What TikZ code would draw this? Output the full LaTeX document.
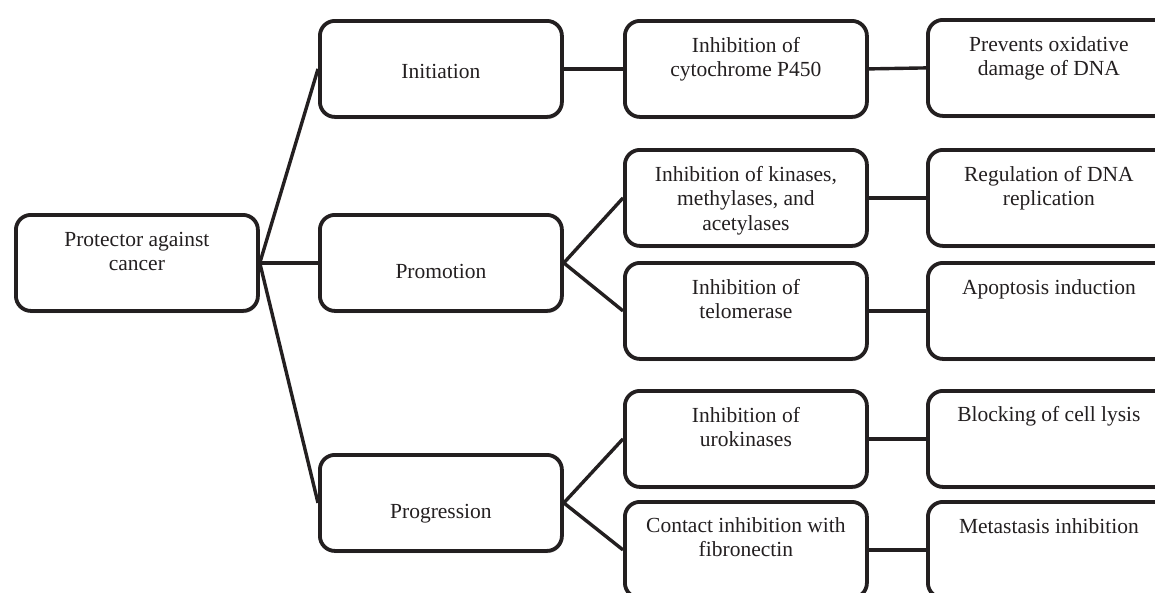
\documentclass[tikz,border=0pt]{standalone}
\usepackage{fontspec}
\setmainfont{Liberation Serif}
\usetikzlibrary{shadows}

\definecolor{ink}{RGB}{35,31,32}
% text of a box: pushed down from its top edge by #1
\newcommand{\celltext}[2]{\parbox[c][96pt][t]{242pt}{\centering\vspace*{#1}\strut #2}}

\tikzset{
  blk/.style={draw=ink, line width=3.8pt, rounded corners=15pt, fill=white,
    inner sep=0pt, anchor=north west, text=ink,
    font=\fontsize{21.5}{24.5}\selectfont,
    drop shadow={shadow xshift=0.8pt, shadow yshift=-2.2pt, fill=black!20, opacity=1}},
  link/.style={draw=ink, line width=3.4pt}
}

\begin{document}
\begin{tikzpicture}[x=1pt, y=-1pt]
\path[use as bounding box, clip] (0,0) rectangle (1155,592);
\fill[white] (0,0) rectangle (1155,592);

% root and stages
\node[blk] (root) at (14,213) {\celltext{14pt}{Protector against\\cancer}};
\node[blk] (init) at (318,19) {\celltext{40pt}{Initiation}};
\node[blk] (promo) at (318,213) {\celltext{46pt}{Promotion}};
\node[blk] (progr) at (318,453) {\celltext{46pt}{Progression}};

% mechanisms
\node[blk] (cyto) at (623,19) {\celltext{14pt}{Inhibition of\\cytochrome P450}};
\node[blk] (kin) at (623,148) {\celltext{14pt}{Inhibition of kinases,\\methylases, and\\acetylases}};
\node[blk] (telo) at (623,261) {\celltext{14pt}{Inhibition of\\telomerase}};
\node[blk] (uro) at (623,389) {\celltext{14pt}{Inhibition of\\urokinases}};
\node[blk] (fibro) at (623,500) {\celltext{13pt}{Contact inhibition with\\fibronectin}};

% effects
\node[blk] (oxid) at (926,18) {\celltext{14pt}{Prevents oxidative\\damage of DNA}};
\node[blk] (repl) at (926,148) {\celltext{14pt}{Regulation of DNA\\replication}};
\node[blk] (apop) at (926,261) {\celltext{14pt}{Apoptosis induction}};
\node[blk] (lysis) at (926,389) {\celltext{13pt}{Blocking of cell lysis}};
\node[blk] (meta) at (926,500) {\celltext{14pt}{Metastasis inhibition}};

% connectors
\foreach \a in {init,promo,progr}
  \draw[link] (root.east) -- (\a.west);
\draw[link] (promo.east) -- (kin.west);
\draw[link] (promo.east) -- (telo.west);
\draw[link] (progr.east) -- (uro.west);
\draw[link] (progr.east) -- (fibro.west);
\draw[link] (init.east) -- (cyto.west);
\draw[link] (cyto.east) -- (oxid.west);
\draw[link] (kin.east) -- (repl.west);
\draw[link] (telo.east) -- (apop.west);
\draw[link] (uro.east) -- (lysis.west);
\draw[link] (fibro.east) -- (meta.west);

\end{tikzpicture}
\end{document}
